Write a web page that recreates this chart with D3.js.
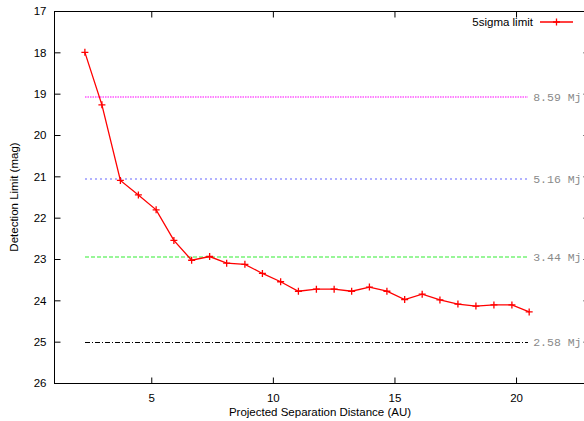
<!DOCTYPE html>
<html>
<head>
<meta charset="utf-8">
<script src="https://cdn.jsdelivr.net/npm/d3@7"></script>
<style>
  html, body { margin: 0; padding: 0; background: #fff; }
  svg { display: block; }
</style>
</head>
<body>
<svg id="chart" width="584" height="421"></svg>
<script>
// Projected separation (AU) and the 5-sigma detection limit (mag)
const separation = [2.27, 2.97, 3.73, 4.47, 5.2, 5.93, 6.66, 7.4, 8.1, 8.85,
  9.57, 10.32, 11.05, 11.79, 12.52, 13.24, 13.97, 14.69, 15.42, 16.14,
  16.87, 17.61, 18.35, 19.09, 19.83, 20.54];
const limitMag = [18.0, 19.27, 21.1, 21.45, 21.81, 22.55, 23.03, 22.94, 23.1, 23.13,
  23.35, 23.55, 23.78, 23.73, 23.73, 23.78, 23.68, 23.78, 23.98, 23.85,
  23.99, 24.09, 24.14, 24.11, 24.11, 24.28];

// Reference mass levels (Jupiter masses) and their magnitudes
const massLabels = ["8.59 Mj", "5.16 Mj", "3.44 Mj", "2.58 Mj"];
const massMag = [19.08, 21.07, 22.94, 25.0];
const massColors = ["#ff55ff", "#6666ff", "#33ee33", "#000000"];
const massDashes = ["1.5,1", "2,3", "4,2", "5,2,1,2"];
const massWidths = [1.3, 1.2, 1.2, 1];

const xTicks = [5, 10, 15, 20];
const yTicks = [17, 18, 19, 20, 21, 22, 23, 24, 25, 26];

const svg = d3.select("#chart");
const plotL = 54, plotR = 589, plotT = 11, plotB = 383;

const x = d3.scaleLinear().domain([1, 23]).range([plotL, plotR]);
const y = d3.scaleLinear().domain([17, 26]).range([plotT, plotB]);

const sans = "'Liberation Sans', Arial, sans-serif";
const mono = "'Liberation Mono', 'Courier New', monospace";

// Mass reference lines, spanning the measured separations
const x0 = separation[0], x1 = separation[separation.length - 1];
const refs = svg.append("g").attr("class", "mass-levels");
massMag.forEach((m, i) => {
  const yy = i === 3 ? Math.round(y(m)) + 0.5 : Math.round(y(m));
  refs.append("path")
    .attr("d", `M${Math.round(x(x0))},${yy}H${Math.round(x(x1)) - 1}`)
    .style("stroke", massColors[i])
    .style("stroke-width", massWidths[i] + "px")
    .style("stroke-dasharray", massDashes[i])
    .style("fill", "none");
  refs.append("text")
    .attr("x", x(x1) + 4).attr("y", y(m) + 4)
    .attr("font-family", mono).attr("font-size", 11.5)
    .style("fill", "#8a8a8a").text(massLabels[i]);
});

// Frame
svg.append("rect")
  .attr("x", plotL + 0.5).attr("y", plotT + 0.5)
  .attr("width", plotR - plotL).attr("height", plotB - plotT)
  .attr("fill", "none").attr("stroke", "#000").attr("stroke-width", 1);

// Axes with ticks drawn inward on all four sides
const axisBottom = d3.axisBottom(x).tickValues(xTicks).tickSizeInner(-6).tickSizeOuter(0).tickPadding(10);
const axisTop = d3.axisTop(x).tickValues(xTicks).tickSizeInner(-6).tickSizeOuter(0).tickFormat("");
const axisLeft = d3.axisLeft(y).tickValues(yTicks).tickSizeInner(-6).tickSizeOuter(0).tickPadding(8);
const axisRight = d3.axisRight(y).tickValues(yTicks).tickSizeInner(-6).tickSizeOuter(0).tickFormat("");

function styleAxis(g) {
  g.select(".domain").remove();
  g.selectAll(".tick line").attr("stroke", "#000");
  g.selectAll(".tick text").attr("font-family", sans).attr("font-size", 11.5).attr("fill", "#000");
}
svg.append("g").attr("transform", `translate(0,${plotB + 0.5})`).call(axisBottom).call(styleAxis);
svg.append("g").attr("transform", `translate(0,${plotT + 0.5})`).call(axisTop).call(styleAxis);
svg.append("g").attr("transform", `translate(${plotL + 0.5},0)`).call(axisLeft).call(styleAxis);
svg.append("g").attr("transform", `translate(${plotR + 0.5},0)`).call(axisRight).call(styleAxis);

// Axis titles
svg.append("text")
  .attr("x", 320).attr("y", 416)
  .attr("text-anchor", "middle").attr("font-family", sans).attr("font-size", 11.5)
  .text("Projected Separation Distance (AU)");
svg.append("text")
  .attr("transform", `translate(18,${(plotT + plotB) / 2}) rotate(-90)`)
  .attr("text-anchor", "middle").attr("font-family", sans).attr("font-size", 11.5)
  .text("Detection Limit (mag)");

// Detection limit curve
const pts = separation.map((d, i) => [d, limitMag[i]]);
svg.append("path")
  .datum(pts)
  .attr("d", d3.line().x(d => x(d[0])).y(d => y(d[1])))
  .attr("fill", "none").attr("stroke", "#ff0000").attr("stroke-width", 1.3);

function drawPlus(g, cx, cy) {
  g.append("path")
    .attr("d", `M${cx - 3.5},${cy}H${cx + 3.5}M${cx},${cy - 3.5}V${cy + 3.5}`)
    .attr("stroke", "#ff0000").attr("stroke-width", 1.3).attr("fill", "none");
}
const marks = svg.append("g");
pts.forEach(p => drawPlus(marks, x(p[0]), y(p[1])));

// Legend
svg.append("text")
  .attr("x", 533).attr("y", 26)
  .attr("text-anchor", "end").attr("font-family", sans).attr("font-size", 11.5)
  .text("5sigma limit");
svg.append("line")
  .attr("x1", 540).attr("x2", 573).attr("y1", 22).attr("y2", 22)
  .attr("stroke", "#ff0000").attr("stroke-width", 1.3);
drawPlus(svg, 556.5, 22);
</script>
</body>
</html>
